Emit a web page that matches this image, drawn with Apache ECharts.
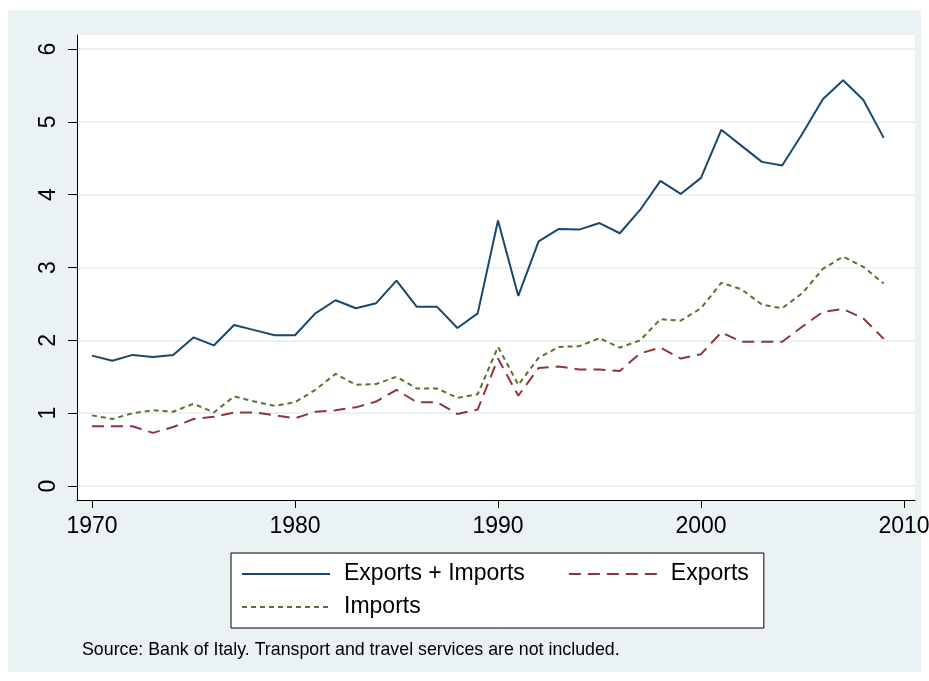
<!DOCTYPE html>
<html>
<head>
<meta charset="utf-8">
<script src="https://cdn.jsdelivr.net/npm/echarts@6/dist/echarts.min.js"></script>
<style>
html,body{margin:0;padding:0;background:#fff;width:929px;height:681px;overflow:hidden;}
#bg{position:absolute;left:8px;top:10px;width:913px;height:662px;background:#eaf2f3;}
#chart{position:absolute;left:0;top:0;width:929px;height:681px;}
</style>
</head>
<body>
<div id="bg"></div>
<div id="chart"></div>
<script>
const years = [1970,1971,1972,1973,1974,1975,1976,1977,1978,1979,1980,1981,1982,1983,1984,1985,1986,1987,1988,1989,1990,1991,1992,1993,1994,1995,1996,1997,1998,1999,2000,2001,2002,2003,2004,2005,2006,2007,2008,2009];
const exportsPlusImports = [1.79,1.72,1.80,1.77,1.80,2.04,1.93,2.21,2.14,2.07,2.07,2.37,2.55,2.44,2.51,2.82,2.46,2.46,2.17,2.37,3.645,2.61,3.36,3.53,3.52,3.61,3.47,3.79,4.19,4.01,4.23,4.89,4.67,4.45,4.40,4.84,5.31,5.57,5.30,4.78];
const exportsVals = [0.82,0.82,0.82,0.73,0.81,0.92,0.95,1.01,1.01,0.97,0.93,1.02,1.04,1.08,1.16,1.32,1.15,1.15,0.99,1.05,1.75,1.24,1.62,1.64,1.60,1.60,1.58,1.82,1.90,1.75,1.81,2.11,1.98,1.98,1.98,2.19,2.39,2.43,2.30,2.02];
const importsVals = [0.97,0.92,1.00,1.04,1.02,1.13,1.01,1.23,1.16,1.10,1.15,1.32,1.54,1.39,1.40,1.50,1.34,1.34,1.21,1.26,1.91,1.39,1.76,1.91,1.92,2.03,1.90,2.00,2.29,2.27,2.44,2.79,2.70,2.49,2.44,2.65,2.98,3.15,3.01,2.78];
const xTicks = [1970,1980,1990,2000,2010];
const yTicks = [0,1,2,3,4,5,6];
const seriesNames = ['Exports + Imports','Exports','Imports'];
const sourceNote = 'Source: Bank of Italy. Transport and travel services are not included.';

const FONT = "'Liberation Sans', Arial, sans-serif";
const zip = (xs, ys) => xs.map((x, i) => [x, ys[i]]);

const chart = echarts.init(document.getElementById('chart'), null, {renderer: 'canvas'});
chart.setOption({
  backgroundColor: 'transparent',
  animation: false,
  title: {
    text: sourceNote,
    left: 82, top: 641, padding: 0,
    textStyle: {fontFamily: FONT, fontSize: 17.8, fontWeight: 'normal', color: '#000', lineHeight: 18}
  },
  grid: {
    left: 77, top: 35, right: 14, bottom: 181,
    show: true, backgroundColor: '#ffffff', borderWidth: 0,
    containLabel: false, outerBoundsMode: 'none'
  },
  xAxis: {
    type: 'value', min: 1969.261, max: 2010.542,
    axisLine: {show: true, onZero: false, lineStyle: {color: '#000', width: 1}},
    axisTick: {show: true, length: 8, customValues: xTicks, lineStyle: {color: '#000'}},
    axisLabel: {customValues: xTicks, margin: 15, fontFamily: FONT, fontSize: 23, color: '#000', lineHeight: 23,
      formatter: v => String(v), hideOverlap: false},
    splitLine: {show: false}
  },
  yAxis: {
    type: 'value', min: -0.192, max: 6.192,
    axisLine: {show: true, onZero: false, lineStyle: {color: '#000', width: 1}},
    axisTick: {show: true, length: 9, customValues: yTicks, lineStyle: {color: '#000'}},
    axisLabel: {customValues: yTicks, rotate: 90, margin: 17, fontFamily: FONT, fontSize: 23, color: '#000', lineHeight: 23,
      formatter: v => String(v)},
    splitLine: {show: true, lineStyle: {color: '#eaf2f3', width: 2}}
  },
  legend: {
    left: 231, top: 553, width: 510,
    orient: 'horizontal',
    padding: [9.5, 15, 9.5, 10],
    backgroundColor: '#ffffff', borderColor: '#000', borderWidth: 1, borderRadius: 0,
    itemWidth: 88, itemHeight: 14, itemGap: 10,
    itemStyle: {opacity: 0, borderWidth: 0},
    textStyle: {fontFamily: FONT, fontSize: 23, color: '#000', lineHeight: 23, padding: [0, 0, 0, 9]},
    data: [
      {name: seriesNames[0], textStyle: {padding: [0, 33, 0, 9]}},
      seriesNames[1],
      seriesNames[2]
    ]
  },
  series: [
    {name: seriesNames[0], type: 'line', data: zip(years, exportsPlusImports), showSymbol: false, symbol: 'none',
     lineStyle: {color: '#1a476f', width: 2}, itemStyle: {color: '#1a476f'}},
    {name: seriesNames[1], type: 'line', data: zip(years, exportsVals), showSymbol: false, symbol: 'none',
     lineStyle: {color: '#90353b', width: 2, type: [12, 7]}, itemStyle: {color: '#90353b'}},
    {name: seriesNames[2], type: 'line', data: zip(years, importsVals), showSymbol: false, symbol: 'none',
     lineStyle: {color: '#55752f', width: 2, type: [5, 4]}, itemStyle: {color: '#55752f'}}
  ]
});
</script>
</body>
</html>
